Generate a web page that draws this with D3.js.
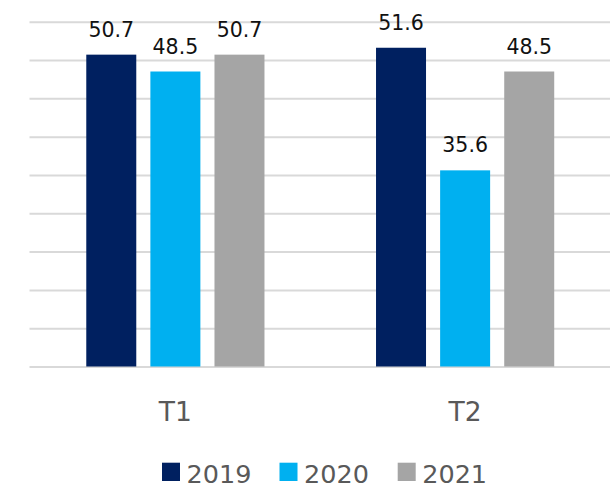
<!DOCTYPE html>
<html>
<head>
<meta charset="utf-8">
<script src="https://cdn.jsdelivr.net/npm/d3@7"></script>
<style>
  html, body { margin: 0; padding: 0; background: #fff; }
  svg { display: block; }
  text { font-family: "DejaVu Sans", sans-serif; }
</style>
</head>
<body>
<svg id="chart" width="613" height="485"></svg>
<script>
const categories = ["T1", "T2"];
const seriesNames = ["2019", "2020", "2021"];
const values2019 = [50.7, 51.6];
const values2020 = [48.5, 35.6];
const values2021 = [50.7, 48.5];
const yTicks = [10, 15, 20, 25, 30, 35, 40, 45, 50, 55];
const colors = ["#002060", "#00B0F0", "#A5A5A5"];

const seriesValues = [values2019, values2020, values2021];
const data = categories.map((c, i) => ({
  cat: c,
  vals: seriesNames.map((s, j) => ({ series: s, value: seriesValues[j][i], color: colors[j] }))
}));

const svg = d3.select("#chart");
const plotLeft = 29.5, plotRight = 610, plotTop = 21.7, plotBottom = 366.5;

const y = d3.scaleLinear().domain([10, 55]).range([plotBottom, plotTop]);
const x0 = d3.scaleBand().domain(categories).range([plotLeft + 1, plotRight]).paddingInner(0).paddingOuter(0);
const outerGap = x0.bandwidth() * 0.1925;
const x1 = d3.scaleBand().domain(seriesNames)
  .range([outerGap, x0.bandwidth() - outerGap]).paddingInner(0.22).paddingOuter(0);

// gridlines
const grid = svg.append("g").attr("transform", `translate(${plotLeft},0)`)
  .call(d3.axisLeft(y).tickValues(yTicks).tickSize(-(plotRight - plotLeft)).tickFormat(""));
grid.select(".domain").remove();
grid.selectAll(".tick line").attr("stroke", "#d9d9d9").attr("stroke-width", 2);

// bars
const groups = svg.append("g").selectAll("g").data(data).join("g")
  .attr("transform", d => `translate(${x0(d.cat)},0)`);

groups.selectAll("rect").data(d => d.vals).join("rect")
  .attr("x", d => x1(d.series))
  .attr("width", x1.bandwidth())
  .attr("y", d => y(d.value))
  .attr("height", d => y(10) - y(d.value))
  .attr("fill", d => d.color);

groups.selectAll("text.val").data(d => d.vals).join("text")
  .attr("class", "val")
  .attr("x", d => x1(d.series) + x1.bandwidth() / 2)
  .attr("y", d => y(d.value) - 18)
  .attr("text-anchor", "middle")
  .attr("font-size", 20.5)
  .attr("fill", "#111")
  .text(d => d.value.toFixed(1));

// category axis labels
const xAxis = svg.append("g").attr("transform", `translate(0,${plotBottom})`)
  .call(d3.axisBottom(x0).tickSize(0).tickPadding(0));
xAxis.select(".domain").remove();
xAxis.selectAll(".tick text")
  .attr("font-family", "DejaVu Sans, sans-serif")
  .attr("font-size", 26.5)
  .attr("fill", "#595959")
  .attr("dy", null)
  .attr("y", 421 - plotBottom);

// legend
const legendX = [162, 279.5, 397.7];
const legend = svg.append("g").selectAll("g").data(seriesNames).join("g")
  .attr("transform", (d, i) => `translate(${legendX[i]},462.7)`);
legend.append("rect").attr("width", 18).attr("height", 18.3).attr("fill", (d, i) => colors[i]);
legend.append("text").attr("x", 24.5).attr("y", 20.5)
  .attr("font-size", 25.5).attr("fill", "#595959").text(d => d);
</script>
</body>
</html>
